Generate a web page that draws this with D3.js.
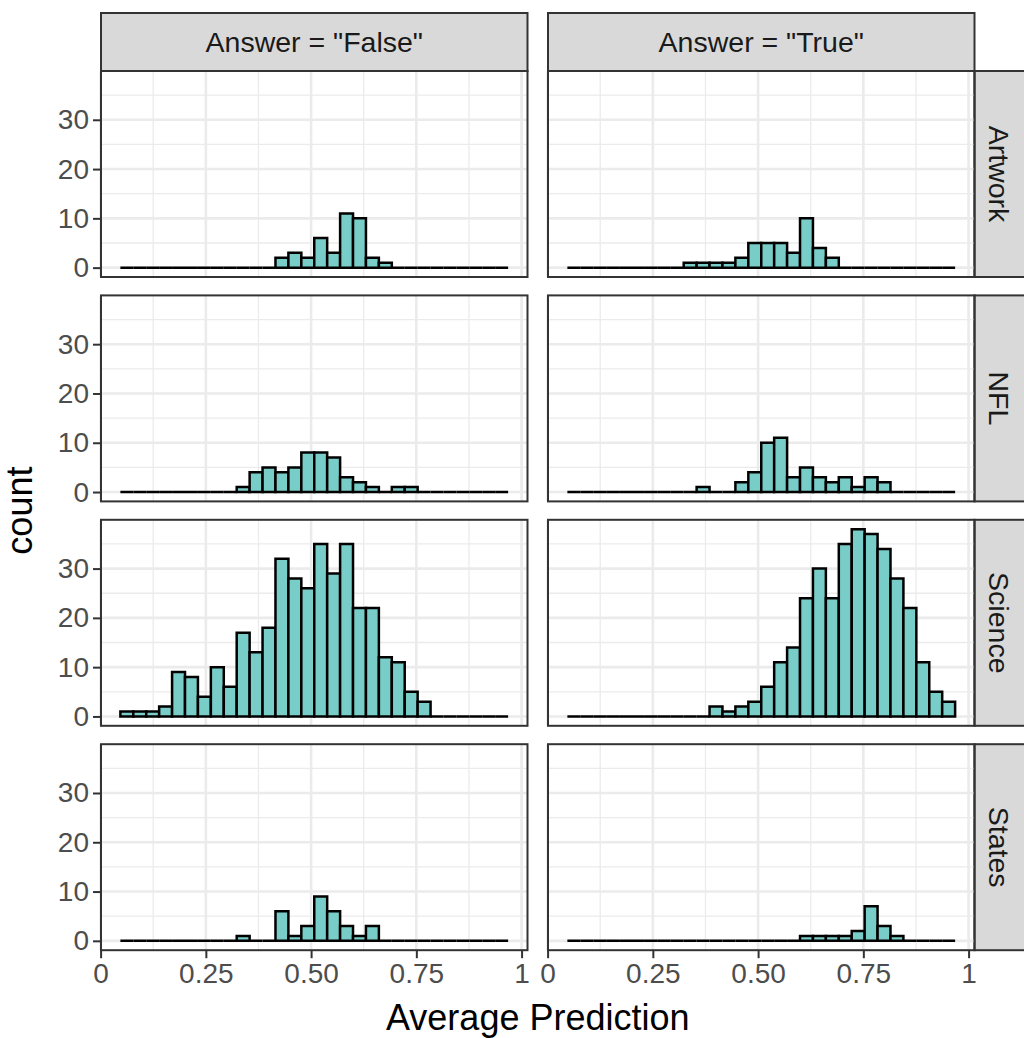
<!DOCTYPE html>
<html>
<head>
<meta charset="utf-8">
<script src="https://cdn.jsdelivr.net/npm/d3@7"></script>
<style>
  body { margin: 0; background: #fff; }
  text { font-family: "Liberation Sans", Arial, sans-serif; }
</style>
</head>
<body>
<script>
/**
  Faceted histograms of the average prediction, split by answer (columns)
  and by question category (rows). 30 bins, ggplot theme_bw look.
*/

// bins shared by every panel
var binStart = 0.047;
var binWidth = 0.0307;
var binCount = 30;

var answers = ['Answer = "False"', 'Answer = "True"'];
var categories = ["Artwork", "NFL", "Science", "States"];

// counts per bin
var artworkFalse = [0,0,0,0,0,0,0,0,0,0,0,0,2,3,2,6,3,11,10,2,1,0,0,0,0,0,0,0,0,0];
var artworkTrue  = [0,0,0,0,0,0,0,0,0,1,1,1,1,2,5,5,5,3,10,4,2,0,0,0,0,0,0,0,0,0];
var nflFalse     = [0,0,0,0,0,0,0,0,0,1,4,5,4,5,8,8,7,3,2,1,0,1,1,0,0,0,0,0,0,0];
var nflTrue      = [0,0,0,0,0,0,0,0,0,0,1,0,0,2,4,10,11,3,5,3,2,3,1,3,2,0,0,0,0,0];
var scienceFalse = [1,1,1,2,9,8,4,10,6,17,13,18,32,28,26,35,29,35,22,22,12,11,5,3,0,0,0,0,0,0];
var scienceTrue  = [0,0,0,0,0,0,0,0,0,0,0,2,1,2,3,6,11,14,24,30,24,35,38,37,34,28,22,11,5,3];
var statesFalse  = [0,0,0,0,0,0,0,0,0,1,0,0,6,1,3,9,6,3,1,3,0,0,0,0,0,0,0,0,0,0];
var statesTrue   = [0,0,0,0,0,0,0,0,0,0,0,0,0,0,0,0,0,0,1,1,1,1,2,7,3,1,0,0,0,0];

// tick labels
var xTicks = [0, 0.25, 0.5, 0.75, 1];
var xTickLabels = ["0", "0.25", "0.50", "0.75", "1"];
var xMinor = [0.125, 0.375, 0.625, 0.875];
var yTicks = [0, 10, 20, 30];
var yMinor = [5, 15, 25, 35];

// rows x columns
var panels = [
  [artworkFalse, artworkTrue],
  [nflFalse, nflTrue],
  [scienceFalse, scienceTrue],
  [statesFalse, statesTrue]
];

var W = 1024, H = 1038;
var plotLeft = 101, plotTop = 71;
var panelW = 426.5, panelH = 206;
var hGap = 20.5, vGap = 18.4;
var stripH = 58, stripW = 50;
var fill = "#79CDC8";

var svg = d3.select("body").append("svg")
    .attr("width", W)
    .attr("height", H);

// x domain: bin range plus ggplot's 5% expansion
var binEnd = binStart + binCount * binWidth;
var pad = (binEnd - binStart) * 0.05;
var x = d3.scaleLinear()
    .domain([binStart - pad, binEnd + pad])
    .range([0, panelW]);

var yMax = d3.max(panels, function(r) { return d3.max(r, function(c) { return d3.max(c); }); });
var y = d3.scaleLinear()
    .domain([-yMax * 0.05, yMax * 1.05])
    .range([panelH, 0]);

// top strips
answers.forEach(function(a, j) {
  var gx = plotLeft + j * (panelW + hGap);
  var g = svg.append("g").attr("transform", "translate(" + gx + "," + (plotTop - stripH) + ")");
  g.append("rect")
      .attr("width", panelW).attr("height", stripH)
      .attr("fill", "#D9D9D9").attr("stroke", "#333333").attr("stroke-width", 2);
  g.append("text")
      .attr("x", panelW / 2).attr("y", stripH / 2)
      .attr("dy", "0.35em")
      .attr("text-anchor", "middle")
      .style("font-size", "28.5px")
      .style("fill", "#1A1A1A")
      .text(a);
});

panels.forEach(function(row, i) {
  var gy = plotTop + i * (panelH + vGap);

  // right strip
  var sx = plotLeft + 2 * panelW + hGap;
  var s = svg.append("g").attr("transform", "translate(" + sx + "," + gy + ")");
  s.append("rect")
      .attr("width", stripW + 10).attr("height", panelH)
      .attr("fill", "#D9D9D9").attr("stroke", "#333333").attr("stroke-width", 2);
  s.append("text")
      .attr("transform", "translate(" + (stripW / 2 - 1) + "," + (panelH / 2) + ") rotate(90)")
      .attr("dy", "0.35em")
      .attr("text-anchor", "middle")
      .style("font-size", "28.5px")
      .style("fill", "#1A1A1A")
      .text(categories[i]);

  row.forEach(function(counts, j) {
    var gx = plotLeft + j * (panelW + hGap);
    var g = svg.append("g").attr("transform", "translate(" + gx + "," + gy + ")");

    // grid
    g.selectAll(".vminor").data(xMinor).enter().append("line")
        .attr("x1", x).attr("x2", x).attr("y1", 0).attr("y2", panelH)
        .attr("stroke", "#EBEBEB").attr("stroke-width", 1.3);
    g.selectAll(".hminor").data(yMinor).enter().append("line")
        .attr("y1", y).attr("y2", y).attr("x1", 0).attr("x2", panelW)
        .attr("stroke", "#EBEBEB").attr("stroke-width", 1.3);
    g.selectAll(".vmajor").data(xTicks).enter().append("line")
        .attr("x1", x).attr("x2", x).attr("y1", 0).attr("y2", panelH)
        .attr("stroke", "#EBEBEB").attr("stroke-width", 2.6);
    g.selectAll(".hmajor").data(yTicks).enter().append("line")
        .attr("y1", y).attr("y2", y).attr("x1", 0).attr("x2", panelW)
        .attr("stroke", "#EBEBEB").attr("stroke-width", 2.6);

    // bars, as paths so that empty bins still draw a line at 0
    g.selectAll(".bar").data(counts).enter().append("path")
        .attr("class", "bar")
        .attr("d", function(d, k) {
          var x0 = x(binStart + k * binWidth), x1 = x(binStart + (k + 1) * binWidth);
          return "M" + x0 + "," + y(0) + "V" + y(d) + "H" + x1 + "V" + y(0) + "Z";
        })
        .attr("fill", fill)
        .attr("stroke", "#000")
        .attr("stroke-width", 2.5)
        .attr("stroke-linejoin", "miter");

    // border
    g.append("rect")
        .attr("width", panelW).attr("height", panelH)
        .attr("fill", "none").attr("stroke", "#333333").attr("stroke-width", 2);

    // y axis on the left column
    if (j == 0) {
      var ya = g.append("g")
          .call(d3.axisLeft(y).tickValues(yTicks).tickSize(8).tickPadding(4));
      ya.select(".domain").remove();
      ya.selectAll("line").attr("stroke", "#333333").attr("stroke-width", 2);
      ya.selectAll("text").style("font-size", "28px").style("fill", "#4D4D4D")
          .style("font-family", "'Liberation Sans', Arial, sans-serif");
    }

    // x axis on the bottom row
    if (i == panels.length - 1) {
      var xa = g.append("g")
          .attr("transform", "translate(0," + panelH + ")")
          .call(d3.axisBottom(x).tickValues(xTicks).tickSize(8).tickPadding(5)
            .tickFormat(function(d, k) { return xTickLabels[k]; }));
      xa.select(".domain").remove();
      xa.selectAll("line").attr("stroke", "#333333").attr("stroke-width", 2);
      xa.selectAll("text").style("font-size", "28px").style("fill", "#4D4D4D")
          .style("font-family", "'Liberation Sans', Arial, sans-serif");
    }
  });
});

// axis titles
var plotBottom = plotTop + 4 * panelH + 3 * vGap;
svg.append("text")
    .attr("x", plotLeft + panelW + hGap / 2)
    .attr("y", 1030)
    .attr("text-anchor", "middle")
    .style("font-size", "36px")
    .style("fill", "#000")
    .text("Average Prediction");

svg.append("text")
    .attr("transform", "translate(32," + ((plotTop + plotBottom) / 2) + ") rotate(-90)")
    .attr("text-anchor", "middle")
    .style("font-size", "36px")
    .style("fill", "#000")
    .text("count");
</script>
</body>
</html>
